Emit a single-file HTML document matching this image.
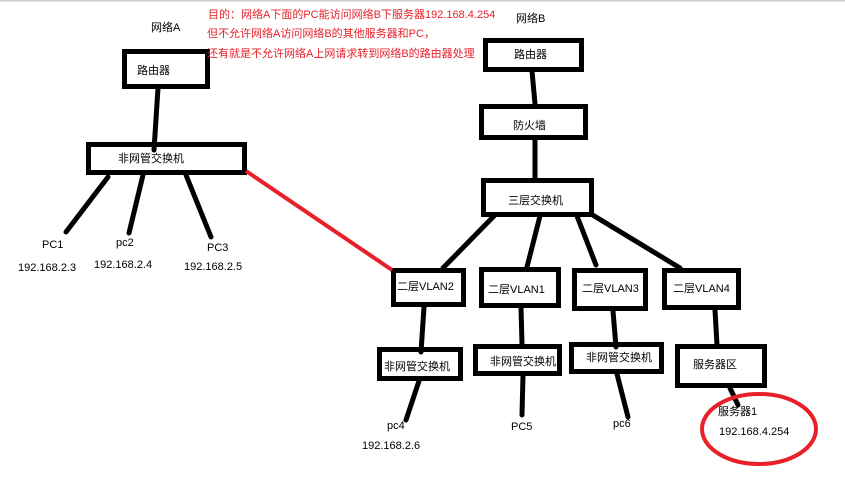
<!DOCTYPE html>
<html><head><meta charset="utf-8"><style>
body{margin:0;background:#fff}
svg text{font-family:"Liberation Sans","Noto Sans CJK SC",sans-serif;font-size:11px;fill:#000}
</style></head><body>
<svg width="845" height="478" viewBox="0 0 845 478" xmlns="http://www.w3.org/2000/svg">
<rect x="0" y="0" width="845" height="1.5" fill="#ccc"/>
<g fill="none" stroke="#000" stroke-width="5">
<rect x="124.5" y="51.5" width="83" height="35"/>
<rect x="88.5" y="144.5" width="156" height="28"/>
<rect x="485.5" y="40.5" width="96" height="29"/>
<rect x="481.5" y="106.5" width="104" height="31"/>
<rect x="483.5" y="180.5" width="108" height="34"/>
<rect x="393.5" y="270.5" width="70" height="34"/>
<rect x="481.5" y="269.5" width="77" height="36"/>
<rect x="574.5" y="270.5" width="71" height="38"/>
<rect x="664.5" y="270.5" width="74" height="37"/>
<rect x="379.5" y="349.5" width="81" height="29"/>
<rect x="475.5" y="346.5" width="84" height="27"/>
<rect x="571.5" y="344.5" width="90" height="27"/>
<rect x="677.5" y="346.5" width="87" height="39"/>
</g>
<g stroke="#000" stroke-width="5" stroke-linecap="round">
<line x1="158" y1="88" x2="154" y2="150"/>
<line x1="108" y1="177" x2="66" y2="232"/>
<line x1="143" y1="175" x2="129" y2="233"/>
<line x1="186" y1="175" x2="211" y2="237"/>
<line x1="532" y1="71" x2="535" y2="104"/>
<line x1="535" y1="139" x2="535" y2="178"/>
<line x1="494" y1="216" x2="443" y2="268"/>
<line x1="540" y1="216" x2="527" y2="267"/>
<line x1="577" y1="216" x2="596" y2="265"/>
<line x1="591" y1="214" x2="680" y2="268"/>
<line x1="424" y1="307" x2="421" y2="352"/>
<line x1="419" y1="381" x2="406" y2="420"/>
<line x1="521" y1="308" x2="522" y2="344"/>
<line x1="523" y1="375" x2="522" y2="415"/>
<line x1="613" y1="311" x2="616" y2="347"/>
<line x1="617" y1="374" x2="628" y2="417"/>
<line x1="715" y1="310" x2="717" y2="345"/>
<line x1="730" y1="388" x2="738" y2="405"/>
</g>
<line x1="246" y1="171" x2="392" y2="270" stroke="#e8202a" stroke-width="4"/>
<ellipse cx="759" cy="429" rx="57" ry="35" fill="none" stroke="#e8202a" stroke-width="4"/>
<text x="208" y="18" style="fill:#e8202a">目的：网络A下面的PC能访问网络B下服务器192.168.4.254</text>
<text x="207" y="37" style="fill:#e8202a">但不允许网络A访问网络B的其他服务器和PC，</text>
<text x="207" y="57" style="fill:#e8202a">还有就是不允许网络A上网请求转到网络B的路由器处理</text>
<text x="151" y="31">网络A</text>
<text x="516" y="22">网络B</text>
<text x="137" y="74">路由器</text>
<text x="118" y="162">非网管交换机</text>
<text x="514" y="58">路由器</text>
<text x="513" y="129">防火墙</text>
<text x="508" y="204">三层交换机</text>
<text x="397" y="290">二层VLAN2</text>
<text x="488" y="293">二层VLAN1</text>
<text x="582" y="292">二层VLAN3</text>
<text x="673" y="292">二层VLAN4</text>
<text x="384" y="370">非网管交换机</text>
<text x="490" y="365">非网管交换机</text>
<text x="586" y="361">非网管交换机</text>
<text x="693" y="368">服务器区</text>
<text x="42" y="248">PC1</text>
<text x="116" y="246">pc2</text>
<text x="207" y="251">PC3</text>
<text x="18" y="271">192.168.2.3</text>
<text x="94" y="268">192.168.2.4</text>
<text x="184" y="270">192.168.2.5</text>
<text x="387" y="429">pc4</text>
<text x="362" y="449">192.168.2.6</text>
<text x="511" y="430">PC5</text>
<text x="613" y="427">pc6</text>
<text x="718" y="415">服务器1</text>
<text x="719" y="435">192.168.4.254</text>
</svg>
</body></html>
